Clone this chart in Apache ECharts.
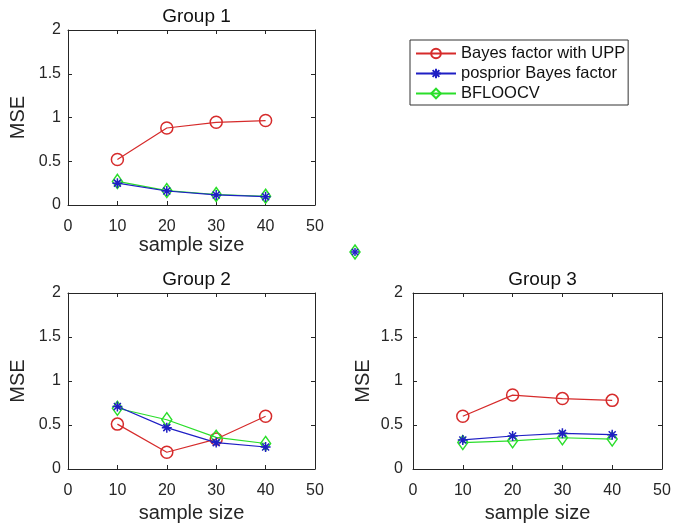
<!DOCTYPE html>
<html><head><meta charset="utf-8">
<script src="https://cdn.jsdelivr.net/npm/echarts@6/dist/echarts.min.js"></script>
<style>html,body{margin:0;padding:0;background:#fff}#c{width:674px;height:531px}</style>
</head><body><div id="c"></div>
<script>
const sampleSizes = [10, 20, 30, 40];
const seriesNames = ['Bayes factor with UPP', 'posprior Bayes factor', 'BFLOOCV'];
const groupTitles = ['Group 1', 'Group 2', 'Group 3'];
const xTicks = [0, 10, 20, 30, 40, 50];
const yTicks = [0, 0.5, 1, 1.5, 2];
// values per group: [UPP, posprior, BFLOOCV]
const g1_upp = [0.52, 0.88, 0.945, 0.965];
const g1_pos = [0.25, 0.16, 0.115, 0.095];
const g1_bfl = [0.27, 0.165, 0.12, 0.10];
const g2_upp = [0.51, 0.19, 0.34, 0.60];
const g2_pos = [0.71, 0.47, 0.30, 0.25];
const g2_bfl = [0.69, 0.56, 0.36, 0.29];
const g3_upp = [0.60, 0.84, 0.80, 0.78];
const g3_pos = [0.33, 0.375, 0.405, 0.39];
const g3_bfl = [0.30, 0.32, 0.355, 0.34];

const groups = [[g1_upp, g1_pos, g1_bfl], [g2_upp, g2_pos, g2_bfl], [g3_upp, g3_pos, g3_bfl]];
const colors = ['#d62b2b', '#1f1fc4', '#2ade2a'];
const star = 'path://M5,0L5,10M0,5L10,5M1.5,1.5L8.5,8.5M1.5,8.5L8.5,1.5';
const symbols = ['circle', star, 'diamond'];
const symSizes = [12, 10, [10, 14]];
const grids = [
  {left: 68, top: 30, width: 247, height: 175},
  {left: 68, top: 293, width: 247, height: 176},
  {left: 413, top: 293, width: 249, height: 176}
];
const nameGaps = [30, 34, 34];
const yMargins = [7, 7, 10];
const axCol = '#262626';
const font = 'Liberation Sans, Arial, sans-serif';

const xAxis = [], yAxis = [], series = [], title = [];
grids.forEach((g, i) => {
  const base = {min: 0, splitLine: {show: false}, axisLine: {show: true, onZero: false, lineStyle: {color: axCol, width: 1}},
    axisTick: {show: true, inside: true, length: 4, lineStyle: {color: axCol}}};
  xAxis.push(Object.assign({}, base, {type: 'value', gridIndex: i, max: 50, interval: 10, position: 'bottom',
    name: 'sample size', nameLocation: 'middle', nameGap: nameGaps[i],
    nameTextStyle: {fontSize: 20, color: axCol, fontFamily: font},
    axisLabel: {fontSize: 16, color: axCol, fontFamily: font, margin: 14}}));
  xAxis.push(Object.assign({}, base, {type: 'value', gridIndex: i, max: 50, interval: 10, position: 'top',
    axisLabel: {show: false}}));
  yAxis.push(Object.assign({}, base, {type: 'value', gridIndex: i, max: 2, interval: 0.5, position: 'left',
    name: 'MSE', nameLocation: 'middle', nameGap: 40,
    nameTextStyle: {fontSize: 20, color: axCol, fontFamily: font},
    axisLabel: {fontSize: 16, color: axCol, fontFamily: font, margin: yMargins[i]}}));
  yAxis.push(Object.assign({}, base, {type: 'value', gridIndex: i, max: 2, interval: 0.5, position: 'right',
    axisLabel: {show: false}}));
  title.push({text: groupTitles[i], left: g.left + g.width / 2, top: g.top - 28, textAlign: 'center',
    textStyle: {fontSize: 19, fontWeight: 'normal', color: '#111', fontFamily: font}});
  groups[i].forEach((vals, k) => {
    series.push({
      name: seriesNames[k], type: 'line', xAxisIndex: 2 * i, yAxisIndex: 2 * i,
      data: sampleSizes.map((x, j) => [x, vals[j]]),
      symbol: symbols[k], symbolSize: symSizes[k], showAllSymbol: true,
      lineStyle: {color: colors[k], width: 1.2},
      itemStyle: {color: k === 1 ? colors[k] : 'rgba(255,255,255,0)', borderColor: colors[k], borderWidth: 1.5},
      z: k === 0 ? 2 : (k === 2 ? 3 : 4),
      animation: false
    });
  });
});

const chart = echarts.init(document.getElementById('c'), null, {renderer: 'canvas'});
chart.setOption({
  backgroundColor: '#fff',
  animation: false,
  title: title,
  grid: grids,
  xAxis: xAxis,
  yAxis: yAxis,
  series: series,
  legend: {
    data: seriesNames, orient: 'vertical', left: 410, top: 40,
    backgroundColor: '#fff', borderColor: '#333', borderWidth: 1, borderRadius: 0,
    padding: [5, 3, 3, 5], itemGap: 3, itemWidth: 40, itemHeight: 12,
    textStyle: {fontSize: 16.5, color: '#111', fontFamily: font}
  },
  graphic: [
    {type: 'polygon', shape: {points: [[355, 245], [360, 252], [355, 259], [350, 252]]},
      style: {fill: 'none', stroke: colors[2], lineWidth: 1.5}},
    {type: 'line', shape: {x1: 355, y1: 248, x2: 355, y2: 256}, style: {stroke: colors[1], lineWidth: 1.5}},
    {type: 'line', shape: {x1: 351, y1: 252, x2: 359, y2: 252}, style: {stroke: colors[1], lineWidth: 1.5}},
    {type: 'line', shape: {x1: 352, y1: 249, x2: 358, y2: 255}, style: {stroke: colors[1], lineWidth: 1.5}},
    {type: 'line', shape: {x1: 352, y1: 255, x2: 358, y2: 249}, style: {stroke: colors[1], lineWidth: 1.5}}
  ]
});
</script></body></html>
